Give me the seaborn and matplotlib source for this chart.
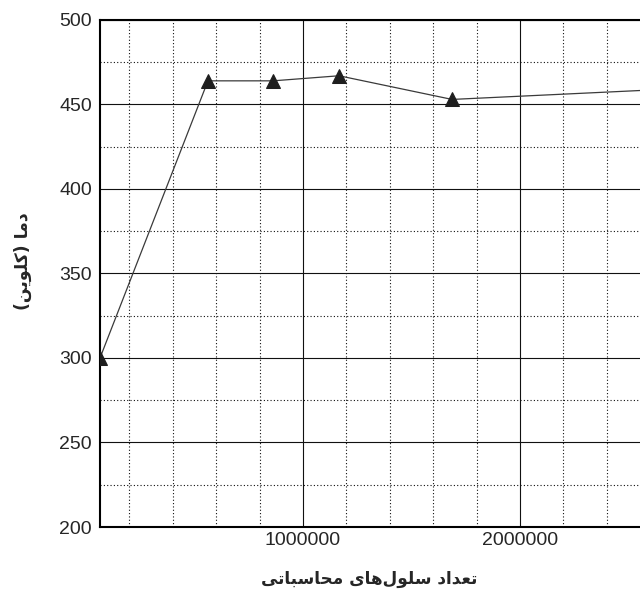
import matplotlib
matplotlib.use("Agg")
import matplotlib.pyplot as plt
import seaborn as sns
import pandas as pd
from matplotlib.ticker import MultipleLocator

# ---- data ----
cells = [64500, 562000, 862000, 1166000, 1687000, 3000000]
temps = [300, 464, 464, 467, 453, 461]
x_label = "تعداد سلول‌های محاسباتی"
y_label = "دما (کلوین)"

# ---- minimal Arabic/Persian shaping (presentation forms + visual order) ----
FORMS = {
    '\u0627': ('\uFE8D', '\uFE8E', None, None),
    '\u062F': ('\uFEA9', '\uFEAA', None, None),
    '\u0630': ('\uFEAB', '\uFEAC', None, None),
    '\u0631': ('\uFEAD', '\uFEAE', None, None),
    '\u0632': ('\uFEAF', '\uFEB0', None, None),
    '\u0648': ('\uFEED', '\uFEEE', None, None),
    '\u0628': ('\uFE8F', '\uFE90', '\uFE91', '\uFE92'),
    '\u062A': ('\uFE95', '\uFE96', '\uFE97', '\uFE98'),
    '\u062B': ('\uFE99', '\uFE9A', '\uFE9B', '\uFE9C'),
    '\u062C': ('\uFE9D', '\uFE9E', '\uFE9F', '\uFEA0'),
    '\u062D': ('\uFEA1', '\uFEA2', '\uFEA3', '\uFEA4'),
    '\u062E': ('\uFEA5', '\uFEA6', '\uFEA7', '\uFEA8'),
    '\u0633': ('\uFEB1', '\uFEB2', '\uFEB3', '\uFEB4'),
    '\u0634': ('\uFEB5', '\uFEB6', '\uFEB7', '\uFEB8'),
    '\u0639': ('\uFEC9', '\uFECA', '\uFECB', '\uFECC'),
    '\u0641': ('\uFED1', '\uFED2', '\uFED3', '\uFED4'),
    '\u0642': ('\uFED5', '\uFED6', '\uFED7', '\uFED8'),
    '\u0644': ('\uFEDD', '\uFEDE', '\uFEDF', '\uFEE0'),
    '\u0645': ('\uFEE1', '\uFEE2', '\uFEE3', '\uFEE4'),
    '\u0646': ('\uFEE5', '\uFEE6', '\uFEE7', '\uFEE8'),
    '\u0647': ('\uFEE9', '\uFEEA', '\uFEEB', '\uFEEC'),
    '\u064A': ('\uFEF1', '\uFEF2', '\uFEF3', '\uFEF4'),
    '\u06CC': ('\uFBFC', '\uFBFD', '\uFBFE', '\uFBFF'),
    '\u06A9': ('\uFB8E', '\uFB8F', '\uFB90', '\uFB91'),
}
MIRROR = {'(': ')', ')': '('}


def dual(c):
    f = FORMS.get(c)
    return f is not None and f[2] is not None


def joins(c):
    return c in FORMS


def shape(text):
    out = []
    n = len(text)
    for i, c in enumerate(text):
        if c not in FORMS:
            if c == '\u200C':
                continue
            out.append(MIRROR.get(c, c))
            continue
        prev = text[i - 1] if i > 0 else ''
        nxt = text[i + 1] if i + 1 < n else ''
        jp = dual(prev)
        jn = dual(c) and joins(nxt)
        iso, fin, ini, med = FORMS[c]
        if jp and jn:
            g = med
        elif jp:
            g = fin
        elif jn:
            g = ini
        else:
            g = iso
        out.append(g)
    return ''.join(reversed(out))


sns.set_style("white")
plt.rcParams['font.family'] = ['Liberation Sans', 'DejaVu Sans']

df = pd.DataFrame({"cells": cells, "temp": temps})

fig = plt.figure(figsize=(6.4, 5.9), dpi=100)
ax = fig.add_axes([100 / 640, 63 / 590, 545 / 640, 507 / 590])

sns.lineplot(data=df, x="cells", y="temp", ax=ax, color="#3a3a3a", linewidth=0.9,
             marker="^", markersize=9.5, markerfacecolor="#1e1e1e",
             markeredgecolor="#1e1e1e", clip_on=True, zorder=5)

ax.set_xlim(64500, 64500 + 545 / 217 * 1e6)
ax.set_ylim(200, 500)
ax.xaxis.set_major_locator(MultipleLocator(1000000))
ax.xaxis.set_minor_locator(MultipleLocator(200000))
ax.yaxis.set_major_locator(MultipleLocator(50))
ax.yaxis.set_minor_locator(MultipleLocator(25))
ax.ticklabel_format(axis='x', style='plain', useOffset=False)

ax.grid(which='major', color='#111111', linewidth=0.8, linestyle='-')
ax.grid(which='minor', color='#111111', linewidth=0.8, linestyle=(0, (1, 2)))
ax.set_axisbelow(True)

for s in ['left', 'bottom', 'top']:
    ax.spines[s].set_linewidth(1.5)
    ax.spines[s].set_color('black')
ax.spines['right'].set_visible(False)

ax.tick_params(which='major', direction='in', length=9.4, width=1.3, color='black',
               labelsize=14, top=False, right=False)
ax.tick_params(which='minor', direction='in', length=5, width=1.1, color='black',
               top=False, right=False)
ax.tick_params(axis='y', which='major', pad=5.8)
ax.tick_params(axis='x', which='major', pad=3.6)

ax.set_xlabel(shape(x_label), fontsize=12.2, fontweight='bold', family=['DejaVu Sans'])
ax.set_ylabel(shape(y_label), fontsize=12.4, fontweight='bold', family=['DejaVu Sans'])
ax.xaxis.set_label_coords((369 - 100) / 545, (527 - 579) / 507)
ax.xaxis.label.set_va('center')
ax.yaxis.set_label_coords((23 - 100) / 545, (527 - 261) / 507)
ax.yaxis.label.set_va('center')

fig.savefig("out.png", dpi=100)
